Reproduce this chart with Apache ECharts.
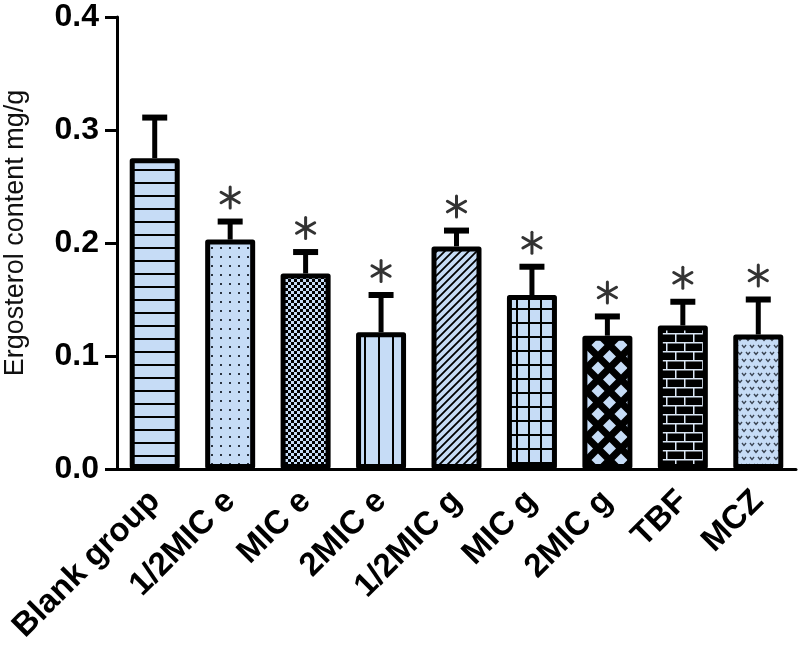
<!DOCTYPE html>
<html>
<head>
    <meta charset="utf-8">
    <title>Ergosterol content</title>
    <script src="https://cdn.jsdelivr.net/npm/echarts@6/dist/echarts.min.js"></script>
    <style>
        html, body { margin: 0; padding: 0; background: #fff; }
    </style>
</head>
<body>
<div id="main" style="width: 800px;height:649px;"></div>
<script type="text/javascript">
    // data
    var categories = ['Blank group', '1/2MIC e', 'MIC e', '2MIC e', '1/2MIC g', 'MIC g', '2MIC g', 'TBF', 'MCZ'];
    var means = [0.275, 0.203, 0.173, 0.121, 0.197, 0.154, 0.118, 0.127, 0.119];
    var errors = [0.036, 0.016, 0.019, 0.033, 0.014, 0.025, 0.017, 0.021, 0.031];
    var significant = [0, 1, 1, 1, 1, 1, 1, 1, 1];
    var yTicks = [0, 0.1, 0.2, 0.3, 0.4];

    var FONT = "'Liberation Sans', Arial, sans-serif";
    var LIGHT = '#c6dcf6';

    // small canvas tiles used as bar fill patterns
    function tile(w, h, draw) {
        var c = document.createElement('canvas');
        c.width = w;
        c.height = h;
        draw(c.getContext('2d'), w, h);
        return c;
    }

    var patterns = [
        // horizontal stripes
        tile(10, 13, function (g, w, h) {
            g.fillStyle = LIGHT; g.fillRect(0, 0, w, h);
            g.fillStyle = '#000'; g.fillRect(0, 0, w, 2);
        }),
        // dots
        tile(9, 9, function (g, w, h) {
            g.fillStyle = LIGHT; g.fillRect(0, 0, w, h);
            g.fillStyle = '#2a3340'; g.fillRect(4, 4, 2, 2);
        }),
        // fine checker
        tile(6, 6, function (g, w, h) {
            g.fillStyle = '#000'; g.fillRect(0, 0, w, h);
            g.fillStyle = LIGHT; g.fillRect(0, 0, 3, 3); g.fillRect(3, 3, 3, 3);
        }),
        // vertical stripes
        tile(14, 10, function (g, w, h) {
            g.fillStyle = LIGHT; g.fillRect(0, 0, w, h);
            g.fillStyle = '#000'; g.fillRect(0, 0, 2, h);
        }),
        // diagonal stripes
        tile(8, 8, function (g, w, h) {
            g.fillStyle = LIGHT; g.fillRect(0, 0, w, h);
            g.strokeStyle = '#000'; g.lineWidth = 1.8;
            g.beginPath();
            g.moveTo(-1, 1); g.lineTo(1, -1);
            g.moveTo(0, h); g.lineTo(w, 0);
            g.moveTo(w - 1, h + 1); g.lineTo(w + 1, h - 1);
            g.stroke();
        }),
        // grid
        tile(12, 14, function (g, w, h) {
            g.fillStyle = LIGHT; g.fillRect(0, 0, w, h);
            g.fillStyle = '#000'; g.fillRect(0, 0, 2, h); g.fillRect(0, 0, w, 2);
        }),
        // diamond lattice
        tile(23, 23, function (g, w, h) {
            g.fillStyle = '#000'; g.fillRect(0, 0, w, h);
            g.fillStyle = LIGHT;
            var r = 6.5;
            [[w / 2, h / 2], [0, 0], [w, 0], [0, h], [w, h]].forEach(function (p) {
                g.beginPath();
                g.moveTo(p[0], p[1] - r); g.lineTo(p[0] + r, p[1]);
                g.lineTo(p[0], p[1] + r); g.lineTo(p[0] - r, p[1]);
                g.closePath(); g.fill();
            });
        }),
        // bricks
        tile(18, 18, function (g, w, h) {
            g.fillStyle = '#000'; g.fillRect(0, 0, w, h);
            g.fillStyle = '#dbe7f6';
            g.fillRect(0, 0, w, 1.5); g.fillRect(0, 9, w, 1.5);
            g.fillRect(0, 0, 1.5, 9); g.fillRect(9, 9, 1.5, 9);
        }),
        // small chevrons
        tile(8, 14, function (g, w, h) {
            g.fillStyle = LIGHT; g.fillRect(0, 0, w, h);
            g.strokeStyle = '#3a4452'; g.lineWidth = 1.4;
            g.beginPath();
            g.moveTo(2, 2); g.lineTo(4, 4.5); g.lineTo(6, 2);
            g.moveTo(-2, 9); g.lineTo(0, 11.5); g.lineTo(2, 9);
            g.moveTo(6, 9); g.lineTo(8, 11.5); g.lineTo(10, 9);
            g.stroke();
        })
    ];

    var barData = means.map(function (v, i) {
        return {
            value: v,
            itemStyle: { color: { image: patterns[i], repeat: 'repeat' } }
        };
    });

    var errData = means.map(function (v, i) {
        return [i, v, v + errors[i], significant[i]];
    });

    function renderErr(params, api) {
        var base = api.coord([api.value(0), api.value(1)]);
        var top = api.coord([api.value(0), api.value(2)]);
        var x = base[0];
        var children = [
            { type: 'line', shape: { x1: x, y1: base[1], x2: x, y2: top[1] },
              style: { stroke: '#000', lineWidth: 5 } },
            { type: 'line', shape: { x1: x - 12.5, y1: top[1], x2: x + 12.5, y2: top[1] },
              style: { stroke: '#000', lineWidth: 6 } }
        ];
        if (api.value(3)) {
            // six-armed asterisk above the cap
            var cy = top[1] - 24, r = 10.5;
            for (var k = 0; k < 3; k++) {
                var a = Math.PI / 2 + k * Math.PI / 3;
                children.push({
                    type: 'line',
                    shape: { x1: x - r * Math.cos(a), y1: cy - r * Math.sin(a),
                             x2: x + r * Math.cos(a), y2: cy + r * Math.sin(a) },
                    style: { stroke: '#333', lineWidth: 3, lineCap: 'round' }
                });
            }
        }
        return { type: 'group', children: children };
    }

    var myChart = echarts.init(document.getElementById('main'));

    var option = {
        animation: false,
        grid: {
            left: 117,
            right: 4,
            top: 17,
            bottom: 180,
            outerBoundsMode: 'none',
            containLabel: false
        },
        xAxis: {
            type: 'category',
            data: categories,
            axisLine: { lineStyle: { color: '#000', width: 3 } },
            axisTick: { alignWithLabel: true, length: 11, lineStyle: { color: '#000', width: 3 } },
            axisLabel: {
                rotate: 45,
                margin: 27,
                interval: 0,
                color: '#000',
                fontSize: 33,
                fontWeight: 'bold',
                fontFamily: FONT
            }
        },
        yAxis: {
            type: 'value',
            min: yTicks[0],
            max: yTicks[yTicks.length - 1],
            interval: 0.1,
            name: 'Ergosterol content mg/g',
            nameLocation: 'middle',
            nameGap: 88,
            nameTextStyle: { color: '#111', fontSize: 27, fontFamily: FONT, padding: [0, 0, 0, 20] },
            splitLine: { show: false },
            axisLine: { show: true, lineStyle: { color: '#000', width: 3 } },
            axisTick: { show: true, length: 12, lineStyle: { color: '#000', width: 3 } },
            axisLabel: {
                margin: 18,
                color: '#000',
                fontSize: 32,
                fontWeight: 'bold',
                fontFamily: FONT,
                formatter: function (v) { return v.toFixed(1); }
            }
        },
        series: [
            {
                type: 'bar',
                data: barData,
                barWidth: 50,
                itemStyle: { borderColor: '#000', borderWidth: 5, borderJoin: 'round' },
                z: 2
            },
            {
                type: 'custom',
                data: errData,
                renderItem: renderErr,
                encode: { x: 0, y: 2 },
                z: 3
            }
        ]
    };

    myChart.setOption(option);
</script>
</body>
</html>
